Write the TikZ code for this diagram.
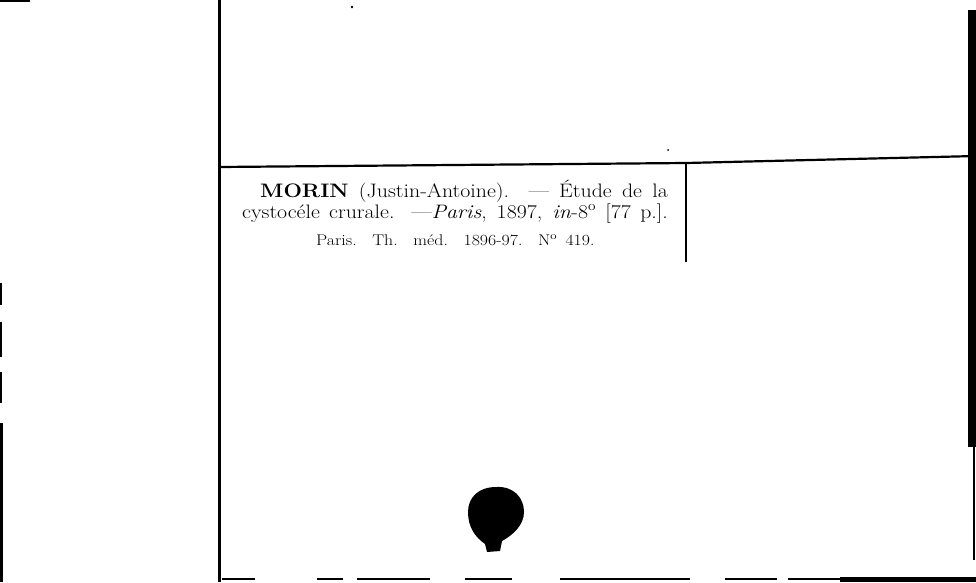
\documentclass[tikz,border=0pt]{standalone}
\usepackage{graphicx}
\begin{document}
\begin{tikzpicture}[x=1pt,y=-1pt,
  rulethick/.style={line width=3pt,black},
  rulemid/.style={line width=2.2pt,black},
  rulethin/.style={line width=1.4pt,black},
  edgebar/.style={line width=8pt,black},
  cardtext/.style={anchor=base west,inner sep=0pt,font=\fontsize{19.5}{21}\selectfont},
  smalltext/.style={anchor=base west,inner sep=0pt,font=\fontsize{15.5}{17}\selectfont}]
\useasboundingbox (0,0) rectangle (976,582);
\fill[white] (0,0) rectangle (976,582);

% frame coordinates
\coordinate (lt) at (219,0);
\coordinate (lb) at (219,582);
\coordinate (hl) at (219,167);
\coordinate (hm) at (686,163);
\coordinate (hr) at (976,156);
\coordinate (vb) at (686,262);
\coordinate (rt) at (972,10);
\coordinate (rb) at (972,447);

% left vertical rule
\draw[rulethick] (lt) -- (lb);
% horizontal rule
\draw[rulemid] (hl) -- (hm) -- (hr);
% short vertical rule
\draw[rulethin] (hm) -- (vb);
% right edge bar
\draw[edgebar] (rt) -- (rb);
\draw[line width=2pt] (974,447) -- (974,560);

% top-left tiny mark
\draw[line width=2pt] (0,1) -- (30,1);
% left edge dashes
\draw[line width=2pt] (1,283) -- (1,305);
\draw[line width=2pt] (1,322) -- (1,357);
\draw[line width=2pt] (1,372) -- (1,403);
\draw[line width=3pt] (1,423) -- (1,582);

% bottom rule (broken)
\foreach \a/\b in {222/255,317/343,357/430,465/512,560/690,725/777,788/976}
  \draw[line width=2pt] (\a,579) -- (\b,579);
\fill (840,577) rectangle (976,582);

% specks
\fill (352,7) circle (1.3);
\fill (668,150) circle (1);

% ink blot
\fill (496,487) .. controls (514,486) and (524,498) .. (524,512)
  .. controls (524,525) and (513,535) .. (502,541) -- (500,551) -- (487,552) -- (485,544)
  .. controls (475,537) and (468,527) .. (468,512)
  .. controls (468,497) and (479,487) .. (496,487) -- cycle;

% text
\node[cardtext] (l1) at (260,197) {\scalebox{1.12}[1]{\makebox[364pt][s]{\textbf{MORIN} (Justin-Antoine). --- Étude de la}}};
\node[cardtext] (l2) at (242,218) {\scalebox{1.12}[1]{\makebox[380pt][s]{cystocéle crurale. ---\textit{Paris}, 1897, \textit{in}-8\textsuperscript{o} [77 p.].}}};
\node[smalltext] (l3) at (316,245) {\scalebox{1.15}[1]{\makebox[242pt][s]{Paris. Th. méd. 1896-97. N\textsuperscript{o} 419.}}};
\end{tikzpicture}
\end{document}
